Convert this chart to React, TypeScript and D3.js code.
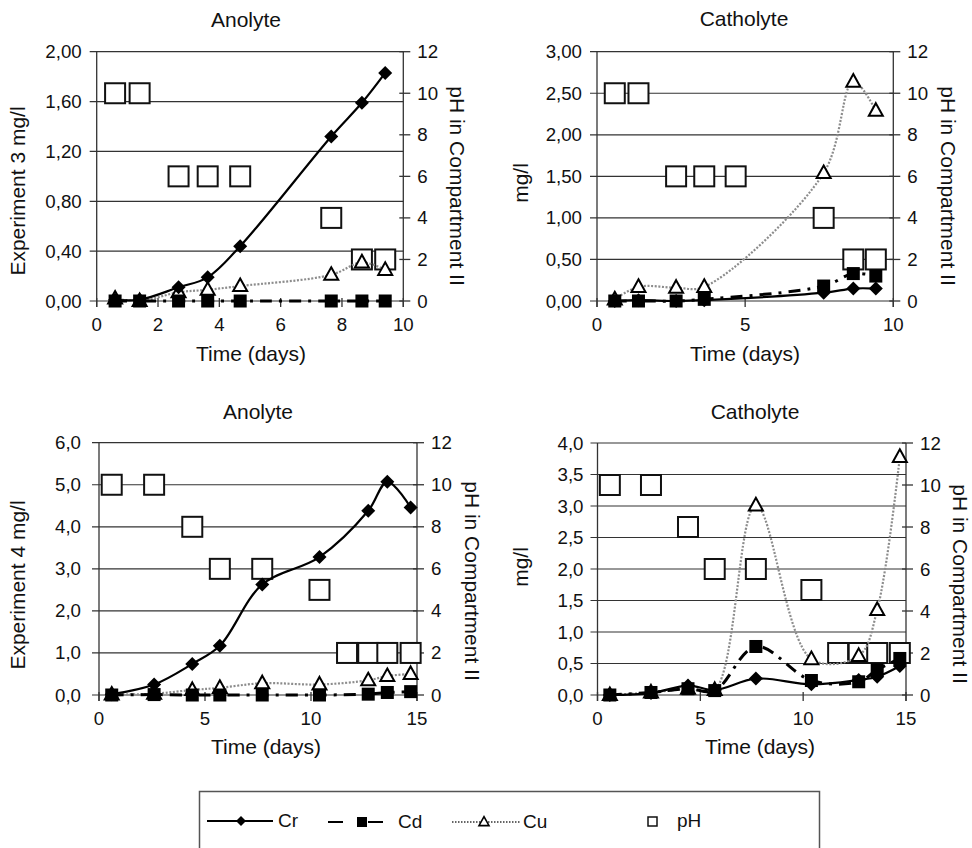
import React from 'react';
import * as d3 from 'd3';

// ---------- data ----------
const titles = ['Anolyte', 'Catholyte', 'Anolyte', 'Catholyte'];
const leftTitles = ['Experiment 3 mg/l', 'mg/l', 'Experiment 4 mg/l', 'mg/l'];
const rightTitle = 'pH in Compartment II';
const xTitle = 'Time (days)';
const legendLabels = ['Cr', 'Cd', 'Cu', 'pH'];

const exp3Days = [0.6, 1.4, 2.67, 3.62, 4.68, 7.65, 8.65, 9.41];
const exp4Days = [0.6, 2.6, 4.4, 5.7, 7.7, 10.4, 11.7, 12.7, 13.6, 14.7];

// Experiment 3, anolyte
const a3Cr = [0.01, 0.01, 0.11, 0.19, 0.44, 1.32, 1.59, 1.83];
const a3Cd = [0, 0, 0, 0, 0, 0, 0, 0];
const a3Cu = [0.02, 0.0, 0.07, 0.09, 0.12, 0.21, 0.31, 0.25];
const a3PH = [10, 10, 6, 6, 6, 4, 2, 2];

// Experiment 3, catholyte
const c3Cr = [0.0, 0.01, 0.0, 0.01, null, 0.1, 0.15, 0.15];
const c3Cd = [0.0, 0.0, 0.0, 0.02, null, 0.18, 0.33, 0.3];
const c3Cu = [0.02, 0.17, 0.16, 0.17, null, 1.54, 2.64, 2.29];
const c3PH = [10, 10, 6, 6, 6, 4, 2, 2];

// Experiment 4, anolyte
const a4Cr = [0.02, 0.25, 0.74, 1.17, 2.63, 3.28, null, 4.38, 5.07, 4.46];
const a4Cd = [0.0, 0.01, 0.0, 0.0, 0.0, 0.0, null, 0.02, 0.06, 0.08];
const a4Cu = [0.01, 0.03, 0.12, 0.17, 0.28, 0.25, null, 0.35, 0.45, 0.5];
const a4PH = [10, 10, 8, 6, 6, 5, 2, 2, 2, 2];

// Experiment 4, catholyte
const c4Cr = [0.0, 0.03, 0.15, 0.08, 0.26, 0.17, null, 0.24, 0.29, 0.46];
const c4Cd = [0.0, 0.04, 0.1, 0.07, 0.77, 0.23, null, 0.21, 0.4, 0.58];
const c4Cu = [0.0, 0.04, 0.1, 0.08, 3.01, 0.57, null, 0.62, 1.35, 3.78];
const c4PH = [10, 10, 8, 6, 6, 5, 2, 2, 2, 2];

const leftTicksA3 = [0, 0.4, 0.8, 1.2, 1.6, 2.0];
const leftTicksC3 = [0, 0.5, 1.0, 1.5, 2.0, 2.5, 3.0];
const leftTicksA4 = [0, 1, 2, 3, 4, 5, 6];
const leftTicksC4 = [0, 0.5, 1.0, 1.5, 2.0, 2.5, 3.0, 3.5, 4.0];
const pHTicks = [0, 2, 4, 6, 8, 10, 12];
const xTicksA3 = [0, 2, 4, 6, 8, 10];
const xTicksC3 = [0, 5, 10];
const xTicks4 = [0, 5, 10, 15];

// ---------- layout ----------
type Layout = {
  x0: number; x1: number; yTop: number; yBot: number; xMax: number; yMax: number; dec: number;
  titleX: number; titleY: number; ltX: number; ltY: number; rtX: number; rtY: number;
  xtX: number; xtY: number; gap: number;
};

const layouts: Layout[] = [
  { x0: 96.7, x1: 403.3, yTop: 51.7, yBot: 301, xMax: 10, yMax: 2, dec: 2, titleX: 246, titleY: 27, ltX: 25, ltY: 191, rtX: 450, rtY: 186, xtX: 251, xtY: 361, gap: 15 },
  { x0: 597, x1: 893.3, yTop: 51.7, yBot: 301, xMax: 10, yMax: 3, dec: 2, titleX: 744, titleY: 26, ltX: 528, ltY: 183, rtX: 941, rtY: 186, xtX: 745, xtY: 361, gap: 15 },
  { x0: 99, x1: 417, yTop: 442.7, yBot: 695, xMax: 15, yMax: 6, dec: 1, titleX: 258, titleY: 419, ltX: 25, ltY: 585, rtX: 465, rtY: 581, xtX: 266, xtY: 754, gap: 18 },
  { x0: 597.5, x1: 906, yTop: 443, yBot: 695, xMax: 15, yMax: 4, dec: 1, titleX: 755, titleY: 419, ltX: 528, ltY: 567, rtX: 953, rtY: 584, xtX: 760, xtY: 754, gap: 14 },
];

type Series = { days: number[]; cr: (number | null)[]; cd: (number | null)[]; cu: (number | null)[]; ph: number[]; leftTicks: number[]; xTicks: number[] };

const panels: Series[] = [
  { days: exp3Days, cr: a3Cr, cd: a3Cd, cu: a3Cu, ph: a3PH, leftTicks: leftTicksA3, xTicks: xTicksA3 },
  { days: exp3Days, cr: c3Cr, cd: c3Cd, cu: c3Cu, ph: c3PH, leftTicks: leftTicksC3, xTicks: xTicksC3 },
  { days: exp4Days, cr: a4Cr, cd: a4Cd, cu: a4Cu, ph: a4PH, leftTicks: leftTicksA4, xTicks: xTicks4 },
  { days: exp4Days, cr: c4Cr, cd: c4Cd, cu: c4Cu, ph: c4PH, leftTicks: leftTicksC4, xTicks: xTicks4 },
];

const FONT = '"Liberation Sans", Arial, sans-serif';
const GRID = '#333';
const CU_COLOR = '#8c8c8c';
const CD_DASH = '12,7,3,7';
const CU_DASH = '2,1.6';
const TICK_FS = 18.7;
const TITLE_FS = 21;

const diamond = (r: number) => `M0,${-r}L${r},0L0,${r}L${-r},0Z`;
const triangle = (s: number) => {
  const h = s * 0.9;
  return `M0,${-h * 0.6}L${s / 2},${h * 0.4}L${-s / 2},${h * 0.4}Z`;
};

function pts(days: number[], vals: (number | null)[]): [number, number][] {
  const out: [number, number][] = [];
  days.forEach((d, i) => {
    const v = vals[i];
    if (v !== null && v !== undefined) out.push([d, v]);
  });
  return out;
}

function Panel({ L, S, idx }: { L: Layout; S: Series; idx: number }) {
  const xs = d3.scaleLinear().domain([0, L.xMax]).range([L.x0, L.x1]);
  const ys = d3.scaleLinear().domain([0, L.yMax]).range([L.yBot, L.yTop]);
  const yr = d3.scaleLinear().domain([0, 12]).range([L.yBot, L.yTop]);
  const fmt = d3.format(`.${L.dec}f`);
  const line = d3
    .line<[number, number]>()
    .x((d) => xs(d[0]))
    .y((d) => ys(d[1]))
    .curve(d3.curveCatmullRom.alpha(0.5));

  const crP = pts(S.days, S.cr);
  const cdP = pts(S.days, S.cd);
  const cuP = pts(S.days, S.cu);
  const phP = pts(S.days, S.ph);

  return (
    <g>
      {S.leftTicks.map((t) => (
        <g key={'g' + t}>
          <line x1={L.x0 - 7} x2={L.x1} y1={ys(t)} y2={ys(t)} stroke={GRID} strokeWidth={1.2} />
          <text x={L.x0 - L.gap} y={ys(t)} dy="0.35em" textAnchor="end" fontSize={TICK_FS} fill="#111">
            {fmt(t).replace('.', ',')}
          </text>
        </g>
      ))}
      <line x1={L.x0} x2={L.x0} y1={L.yTop} y2={L.yBot + 6} stroke={GRID} strokeWidth={1.3} />
      <line x1={L.x1} x2={L.x1} y1={L.yTop} y2={L.yBot + 6} stroke={GRID} strokeWidth={1.3} />
      {S.xTicks.map((t) => (
        <g key={'x' + t}>
          <line x1={xs(t)} x2={xs(t)} y1={L.yBot - 3} y2={L.yBot + 6} stroke={GRID} strokeWidth={1.3} />
          <text x={xs(t)} y={L.yBot + 30} textAnchor="middle" fontSize={TICK_FS} fill="#111">
            {t}
          </text>
        </g>
      ))}
      {pHTicks.map((t) => (
        <g key={'r' + t}>
          <line x1={L.x1 - 4} x2={L.x1 + 7} y1={yr(t)} y2={yr(t)} stroke={GRID} strokeWidth={1.3} />
          <text x={L.x1 + 14} y={yr(t)} dy="0.35em" textAnchor="start" fontSize={TICK_FS} fill="#111">
            {t}
          </text>
        </g>
      ))}

      {phP.map((d, i) => (
        <rect key={'ph' + i} x={xs(d[0]) - 10} y={yr(d[1]) - 10} width={20} height={20} fill="#fff" stroke="#111" strokeWidth={2} />
      ))}

      {/* Cu below the other metals */}
      <path d={line(cuP) || ''} fill="none" stroke={CU_COLOR} strokeWidth={2.2} strokeDasharray={CU_DASH} />
      {cuP.map((d, i) => (
        <path key={'cu' + i} d={triangle(14)} transform={`translate(${xs(d[0])},${ys(d[1])})`} fill="#fff" stroke="#000" strokeWidth={2} />
      ))}

      <path d={line(crP) || ''} fill="none" stroke="#000" strokeWidth={2.2} />
      <path d={line(cdP) || ''} fill="none" stroke="#000" strokeWidth={3} strokeDasharray={CD_DASH} />

      {crP.map((d, i) => (
        <path key={'cr' + i} d={diamond(7)} transform={`translate(${xs(d[0])},${ys(d[1])})`} fill="#000" />
      ))}
      {cdP.map((d, i) => (
        <rect key={'cd' + i} x={xs(d[0]) - 6.5} y={ys(d[1]) - 6.5} width={13} height={13} fill="#000" />
      ))}

      <text x={L.titleX} y={L.titleY} textAnchor="middle" fontSize={TITLE_FS} fill="#111">
        {titles[idx]}
      </text>
      <text x={L.xtX} y={L.xtY} textAnchor="middle" fontSize={TITLE_FS} fill="#111">
        {xTitle}
      </text>
      <text transform={`translate(${L.ltX},${L.ltY}) rotate(-90)`} textAnchor="middle" fontSize={TITLE_FS} fill="#111">
        {leftTitles[idx]}
      </text>
      <text transform={`translate(${L.rtX},${L.rtY}) rotate(90)`} textAnchor="middle" fontSize={TITLE_FS} fill="#111">
        {rightTitle}
      </text>
    </g>
  );
}

function Legend() {
  const y = 821;
  return (
    <g>
      <rect x={199.5} y={791.5} width={620} height={80} fill="none" stroke="#555" strokeWidth={1.5} />
      <line x1={207} x2={273} y1={y} y2={y} stroke="#000" strokeWidth={2} />
      <path d={diamond(5)} transform={`translate(241,${y})`} fill="#000" />
      <text x={278} y={y + 6} fontSize={19} fill="#111">{legendLabels[0]}</text>
      <line x1={328} x2={343} y1={y + 1} y2={y + 1} stroke="#000" strokeWidth={2} />
      <line x1={368} x2={383} y1={y + 1} y2={y + 1} stroke="#000" strokeWidth={2} />
      <rect x={357} y={y - 4} width={10} height={10} fill="#000" />
      <text x={398} y={y + 7} fontSize={19} fill="#111">{legendLabels[1]}</text>
      <line x1={452} x2={520} y1={y + 1} y2={y + 1} stroke="#333" strokeWidth={1.5} strokeDasharray="1.5,1.5" />
      <path d={triangle(10)} transform={`translate(484,${y + 1})`} fill="#fff" stroke="#000" strokeWidth={1.6} />
      <text x={523} y={y + 7} fontSize={19} fill="#111">{legendLabels[2]}</text>
      <rect x={648} y={y - 4} width={9} height={9} fill="#fff" stroke="#111" strokeWidth={1.5} />
      <text x={677} y={y + 6} fontSize={19} fill="#111">{legendLabels[3]}</text>
    </g>
  );
}

export default function App() {
  return (
    <svg
      width={972}
      height={848}
      viewBox="0 0 972 848"
      style={{ position: 'absolute', left: 0, top: 0, background: '#fff', fontFamily: FONT }}
    >
      <rect width={972} height={848} fill="#fff" />
      {layouts.map((L, i) => (
        <Panel key={i} L={L} S={panels[i]} idx={i} />
      ))}
      <Legend />
    </svg>
  );
}
